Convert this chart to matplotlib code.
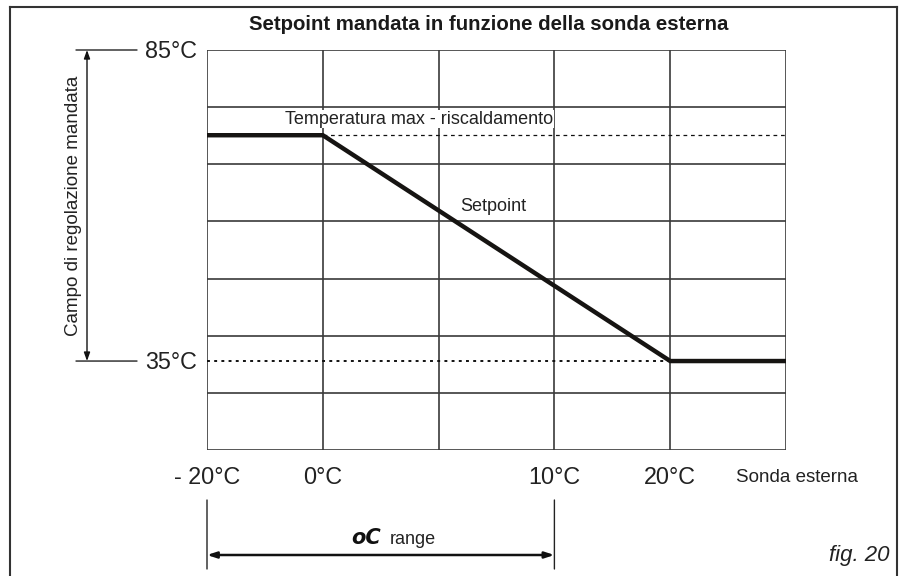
import numpy as np
import matplotlib
matplotlib.use("Agg")
import matplotlib.pyplot as plt
from matplotlib.lines import Line2D

plt.rcParams['font.family'] = ['Liberation Sans', 'DejaVu Sans']

# grid columns: 5 equal columns, outdoor probe labels sit on column edges
n_cols = 5
n_rows = 7
x_tick_pos = [0, 1, 3, 4]
x_tick_labels = ["- 20°C", "0°C", "10°C", "20°C"]

# supply setpoint range (°C)
t_top = 85
t_bottom = 20.7
t_max = 71.3   # max heating temperature
t_min = 35
y_tick_vals = [85, 35]
y_tick_labels = ["85°C", "35°C"]

# setpoint curve, x in column units
setpoint_x = [0, 1, 4, 5]
setpoint_y = [t_max, t_max, t_min, t_min]

W, H = 904, 576
fig = plt.figure(figsize=(W / 100, H / 100), dpi=100)
ax = fig.add_axes([207 / W, 126 / H, 579 / W, 400 / H])
ax.set_xlim(0, n_cols)
ax.set_ylim(t_bottom, t_top)
ax.axis('off')

grid_c = '#3a3a3a'
for xc in range(n_cols + 1):
    ax.axvline(xc, color=grid_c, lw=1.2, zorder=1)
for yr in np.linspace(t_bottom, t_top, n_rows + 1):
    ax.axhline(yr, color=grid_c, lw=1.2, zorder=1)

# reference lines
ax.plot([setpoint_x[1], n_cols], [t_max, t_max], color='#111111', lw=0.9,
        dashes=(3, 3), zorder=2)
ax.plot([0, setpoint_x[2]], [t_min, t_min], color='#111111', lw=1.4,
        dashes=(1.5, 2.2), zorder=2)

# setpoint curve
ax.plot(setpoint_x, setpoint_y, color='#161412', lw=3.2,
        solid_joinstyle='miter', zorder=3)

ax.text(1.83, 73.9, "Temperatura max - riscaldamento", fontsize=13,
        ha='center', va='center', color='#222222', zorder=4,
        bbox=dict(facecolor='white', edgecolor='none', pad=0.5))
ax.text(2.47, 59.8, "Setpoint", fontsize=13, ha='center', va='center',
        color='#222222', zorder=4)

# x labels
for xp, lbl in zip(x_tick_pos, x_tick_labels):
    ax.annotate(lbl, xy=(xp, 0), xycoords=('data', 'axes fraction'),
                xytext=(0, -28), textcoords='offset pixels',
                ha='center', va='center', fontsize=16.8, color='#222222')
ax.annotate("Sonda esterna", xy=(1, 0), xycoords='axes fraction',
            xytext=(-50, -28), textcoords='offset pixels',
            ha='left', va='center', fontsize=13.5, color='#222222')

# y labels
for yv, lbl in zip(y_tick_vals, y_tick_labels):
    ax.annotate(lbl, xy=(0, yv), xycoords=('axes fraction', 'data'),
                xytext=(-10, -1), textcoords='offset pixels',
                ha='right', va='center', fontsize=16.8, color='#222222')
    # short leader on the left range scale
    ax.annotate("", xy=(76, yv), xycoords=('figure pixels', 'data'),
                xytext=(137, yv), textcoords=('figure pixels', 'data'),
                arrowprops=dict(arrowstyle='-', color='#222222', lw=1.0,
                                shrinkA=0, shrinkB=0))

# supply regulation range arrow
ax.annotate("", xy=(87, t_top), xycoords=('figure pixels', 'data'),
            xytext=(87, t_min), textcoords=('figure pixels', 'data'),
            arrowprops=dict(arrowstyle='<|-|>,head_length=0.5,head_width=0.18',
                            color='#111111', lw=1.0, shrinkA=0, shrinkB=0))
ax.annotate("Campo di regolazione mandata", xy=(74, (t_top + t_min) / 2),
            xycoords=('figure pixels', 'data'), rotation=90,
            ha='center', va='center', fontsize=13.5, color='#222222')

# oC range dimension below the chart
for xp in [0, 3]:
    ax.annotate("", xy=(xp, 7), xycoords=('data', 'figure pixels'),
                xytext=(xp, 76), textcoords=('data', 'figure pixels'),
                arrowprops=dict(arrowstyle='-', color='#222222', lw=1.0,
                                shrinkA=0, shrinkB=0))
ax.annotate("", xy=(0, 21), xycoords=('data', 'figure pixels'),
            xytext=(3, 21), textcoords=('data', 'figure pixels'),
            arrowprops=dict(arrowstyle='<|-|>,head_length=0.55,head_width=0.18',
                            color='#111111', lw=1.8, shrinkA=0, shrinkB=0))
fig.text(366 / W, 1 - 538 / H, "oC", fontsize=15, style='italic',
         weight='bold', ha='center', va='center', color='#111111',
         family='DejaVu Sans')
fig.text(390 / W, 1 - 539 / H, "range", fontsize=13, ha='left', va='center',
         color='#222222')

fig.text(489 / W, 1 - 25 / H, "Setpoint mandata in funzione della sonda esterna",
         fontsize=14.7, weight='bold', ha='center', va='center', color='#1a1a1a')
fig.text(890 / W, 1 - 555 / H, "fig. 20", fontsize=16, style='italic',
         ha='right', va='center', color='#222222')

# page frame, open at the bottom
frame = dict(color='#333333', lw=1.5)
fig.add_artist(Line2D([10 / W, 10 / W], [0, 1 - 7 / H], **frame))
fig.add_artist(Line2D([10 / W, 897 / W], [1 - 7 / H, 1 - 7 / H], **frame))
fig.add_artist(Line2D([897 / W, 897 / W], [1 - 7 / H, 0], **frame))

fig.savefig("out.png", dpi=100, facecolor='white')
